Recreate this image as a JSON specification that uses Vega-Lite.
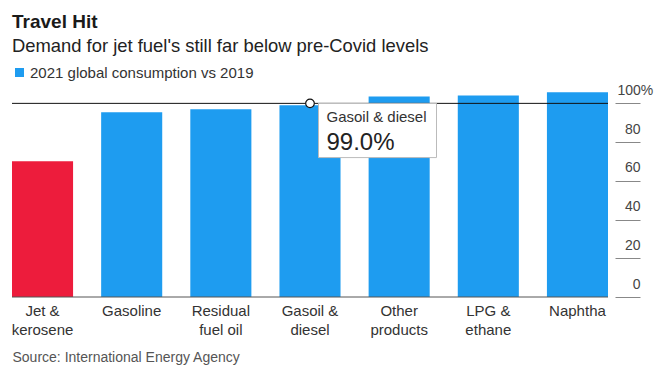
{
  "$schema": "https://vega.github.io/schema/vega-lite/v6.json",
  "autosize": "none",
  "width": 596,
  "height": 213,
  "padding": {"left": 12, "top": 84, "right": 56, "bottom": 75},
  "background": "white",
  "config": {
    "font": "Liberation Sans",
    "view": {"stroke": null}
  },
  "title": {
    "text": "Travel Hit",
    "subtitle": "Demand for jet fuel's still far below pre-Covid levels",
    "anchor": "start",
    "frame": "group",
    "fontSize": 19,
    "fontWeight": "bold",
    "color": "#1a1a1a",
    "subtitleFontSize": 18.4,
    "subtitleColor": "#222222",
    "subtitlePadding": 5,
    "offset": 10
  },
  "data": {
    "values": [
      {"product": "Jet &|kerosene", "value": 70.1, "series": "2021 global consumption vs 2019"},
      {"product": "Gasoline", "value": 95.4, "series": "2021 global consumption vs 2019"},
      {"product": "Residual|fuel oil", "value": 96.9, "series": "2021 global consumption vs 2019"},
      {"product": "Gasoil &|diesel", "value": 99.0, "series": "2021 global consumption vs 2019"},
      {"product": "Other|products", "value": 103.6, "series": "2021 global consumption vs 2019"},
      {"product": "LPG &|ethane", "value": 104.1, "series": "2021 global consumption vs 2019"},
      {"product": "Naphtha", "value": 105.7, "series": "2021 global consumption vs 2019"}
    ]
  },
  "encoding": {
    "x": {
      "field": "product",
      "type": "nominal",
      "sort": null,
      "scale": {"paddingInner": 0.315, "paddingOuter": 0},
      "axis": {
        "orient": "bottom",
        "domain": false,
        "ticks": false,
        "labelAngle": 0,
        "labelExpr": "split(datum.label, '|')",
        "labelFontSize": 15,
        "labelColor": "#333333",
        "labelLineHeight": 19,
        "labelBaseline": "top",
        "labelPadding": 6,
        "title": "Source: International Energy Agency",
        "titleAnchor": "start",
        "titleAlign": "left",
        "titleFontSize": 14,
        "titleFontWeight": "normal",
        "titleColor": "#555555",
        "titlePadding": 13
      }
    }
  },
  "layer": [
    {
      "mark": {"type": "bar"},
      "encoding": {
        "y": {
          "field": "value",
          "type": "quantitative",
          "scale": {"domain": [0, 110], "nice": false},
          "axis": {
            "orient": "right",
            "values": [0, 20, 40, 60, 80, 100],
            "grid": false,
            "domain": false,
            "offset": 7,
            "tickSize": 25,
            "tickColor": "#888888",
            "tickWidth": 1,
            "labelPadding": {"condition": {"test": "datum.value == 100", "value": -23}, "value": 0},
            "labelAlign": {"condition": {"test": "datum.value == 100", "value": "left"}, "value": "right"},
            "labelBaseline": "alphabetic",
            "labelOffset": -9,
            "labelFontSize": 14,
            "labelColor": "#444444",
            "labelExpr": "datum.value == 100 ? '100%' : datum.label",
            "title": null
          }
        },
        "color": {
          "condition": {"test": "datum.product == 'Jet &|kerosene'", "value": "#ED1C3C"},
          "field": "series",
          "type": "nominal",
          "scale": {"range": ["#1E9CF0"]},
          "legend": {
            "orient": "none",
            "legendX": 0,
            "legendY": -19,
            "title": null,
            "symbolType": "square",
            "symbolSize": 81,
            "symbolStrokeWidth": 0,
            "labelFontSize": 15,
            "labelLimit": 400,
            "labelColor": "#333333",
            "labelOffset": 3
          }
        }
      }
    },
    {
      "data": {"values": [{"v": 0}]},
      "mark": {"type": "rule", "color": "#555555", "strokeWidth": 1, "x2Offset": 32},
      "encoding": {"x": null, "y": {"field": "v", "type": "quantitative"}}
    },
    {
      "data": {"values": [{"v": 100}]},
      "mark": {"type": "rule", "color": "#111111", "strokeWidth": 1},
      "encoding": {"x": null, "y": {"field": "v", "type": "quantitative"}}
    },
    {
      "data": {"values": [{"product": "Gasoil &|diesel", "top": 100, "bottom": 72}]},
      "mark": {"type": "bar", "width": 118, "xOffset": 67.5, "fill": "white", "stroke": "#bbbbbb", "strokeWidth": 1},
      "encoding": {
        "y": {"field": "top", "type": "quantitative"},
        "y2": {"field": "bottom"}
      }
    },
    {
      "data": {"values": [{"product": "Gasoil &|diesel", "v": 100}]},
      "mark": {"type": "point", "filled": true, "fill": "white", "stroke": "#111111", "strokeWidth": 1.2, "size": 75, "opacity": 1},
      "encoding": {"y": {"field": "v", "type": "quantitative"}}
    },
    {
      "data": {"values": [{"product": "Gasoil &|diesel", "v": 100, "label": "Gasoil & diesel"}]},
      "mark": {"type": "text", "align": "left", "baseline": "alphabetic", "dx": 16.5, "dy": 19, "fontSize": 15, "color": "#333333"},
      "encoding": {"y": {"field": "v", "type": "quantitative"}, "text": {"field": "label"}}
    },
    {
      "data": {"values": [{"product": "Gasoil &|diesel", "v": 100, "label": "99.0%"}]},
      "mark": {"type": "text", "align": "left", "baseline": "alphabetic", "dx": 16.5, "dy": 47, "fontSize": 24, "color": "#222222"},
      "encoding": {"y": {"field": "v", "type": "quantitative"}, "text": {"field": "label"}}
    }
  ]
}
